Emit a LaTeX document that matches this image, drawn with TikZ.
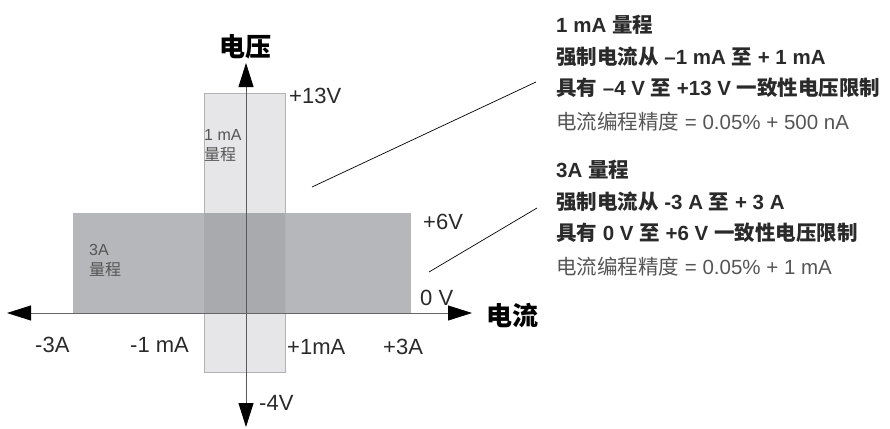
\documentclass[tikz,border=0pt]{standalone}
\usepackage{fontspec}
\setmainfont{Liberation Sans}
\newfontfamily\cjk{Noto Sans CJK SC}
\newcommand{\zh}[1]{{\cjk #1}}
\usetikzlibrary{arrows.meta}
\definecolor{lightbox}{HTML}{E6E6E8}
\definecolor{darkbox}{HTML}{B6B7BA}
\definecolor{overlapbox}{HTML}{A9AAAD}
\definecolor{txt}{HTML}{2A2A2A}
\definecolor{txtgray}{HTML}{555555}
\tikzset{
  axislbl/.style={inner sep=0pt, text=txt, font=\fontsize{22}{24}\selectfont},
  boxlbl/.style={inner sep=0pt, text=txtgray, align=left, font=\fontsize{16}{20}\selectfont},
  axisname/.style={inner sep=0pt, text=black, font=\cjk\bfseries\fontsize{26}{28}\selectfont},
  headline/.style={anchor=west, inner sep=0pt, text=txt, font=\bfseries\fontsize{20.5}{22}\selectfont},
  plainline/.style={anchor=west, inner sep=0pt, text=txtgray, font=\fontsize{20.5}{22}\selectfont},
  axisline/.style={line width=0.8pt, draw=#1, -{Triangle[length=24pt,width=15pt,fill=black,color=black]}},
  leader/.style={draw=black, line width=0.7pt}
}
\begin{document}
\begin{tikzpicture}[x=1pt,y=-1pt]
\useasboundingbox (0,0) rectangle (890,428);
% range boxes
\fill[darkbox] (73,213) rectangle (411,313);
\fill[lightbox, draw=gray!60, line width=0.5pt] (204,93) rectangle (285,372);
\fill[overlapbox] (204,213) rectangle (285,313);
% axes
\coordinate (o) at (246,313);
\coordinate (vtop) at (246,63);
\coordinate (vbot) at (246,427);
\coordinate (hleft) at (7,313);
\coordinate (hright) at (472,313);
\draw[axisline=gray!70!black] (o) -- (vtop);
\draw[axisline=gray!70!black] (o) -- (vbot);
\draw[axisline=gray!80!black] (o) -- (hleft);
\draw[axisline=gray!80!black] (o) -- (hright);
% axis names
\node[axisname] (vname) at (245,47) {电压};
\node[axisname] (iname) at (512,315) {电流};
% tick labels
\node[axislbl, anchor=west] (v13) at (289,96) {+13V};
\node[axislbl, anchor=west] (v6) at (423,222) {+6V};
\node[axislbl, anchor=west] (v0) at (420,298) {0 V};
\node[axislbl, anchor=west] (vm4) at (259,403) {-4V};
\node[axislbl, anchor=west] (im3) at (35,345) {-3A};
\node[axislbl, anchor=west] (im1) at (130,345) {-1 mA};
\node[axislbl, anchor=west] (ip1) at (287,347) {+1mA};
\node[axislbl, anchor=west] (ip3) at (383,347) {+3A};
% box labels
\node[boxlbl, anchor=north west] (lbl1) at (204,129) {1 mA\\\zh{量程}};
\node[boxlbl, anchor=north west] (lbl3) at (89,244) {3A\\\zh{量程}};
% right text, block 1
\node[headline] (a1) at (556,25) {1 mA \zh{量程}};
\node[headline] (a2) at (556,57) {\zh{强制电流从} –1 mA \zh{至} + 1 mA};
\node[headline] (a3) at (556,88) {\zh{具有} –4 V \zh{至} +13 V \zh{一致性电压限制}};
\node[plainline] (a4) at (556,122) {\zh{电流编程精度} = 0.05\% + 500 nA};
% right text, block 2
\node[headline] (b1) at (556,170) {3A \zh{量程}};
\node[headline] (b2) at (556,202) {\zh{强制电流从} -3 A \zh{至} + 3 A};
\node[headline] (b3) at (556,233) {\zh{具有} 0 V \zh{至} +6 V \zh{一致性电压限制}};
\node[plainline] (b4) at (556,267) {\zh{电流编程精度} = 0.05\% + 1 mA};
% leader lines
\coordinate (l1s) at (312,187);
\coordinate (l1e) at (536,82);
\coordinate (l2s) at (429,272);
\coordinate (l2e) at (537,208);
\draw[leader] (l1s) -- (l1e);
\draw[leader] (l2s) -- (l2e);
\end{tikzpicture}
\end{document}
